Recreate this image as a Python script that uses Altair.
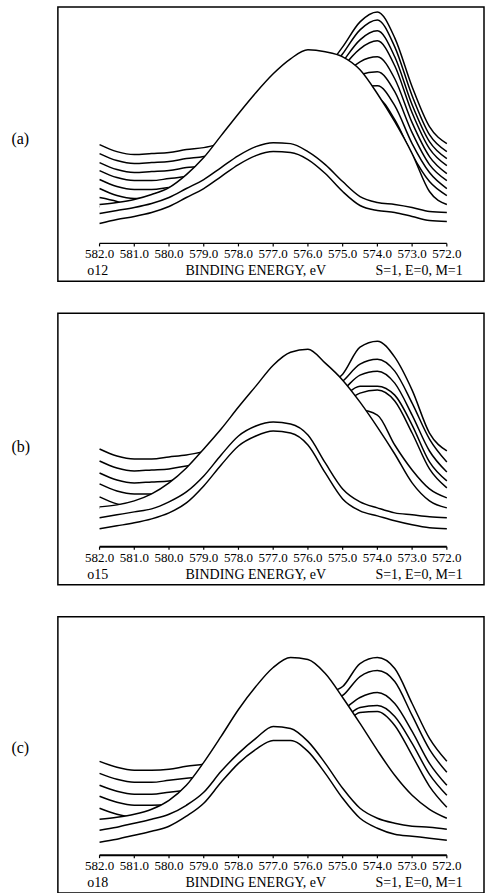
import altair as alt
import pandas as pd

# ---------------- data ----------------
ENERGY = [582.0, 581.5, 581.0, 580.5, 580.0, 579.5, 579.0, 578.5, 578.0, 577.5,
          577.0, 576.5, 576.0, 575.5, 575.0, 574.5, 574.0, 573.5, 573.0, 572.5, 572.0]
TICKS = [582.0, 581.0, 580.0, 579.0, 578.0, 577.0, 576.0, 575.0, 574.0, 573.0, 572.0]
TICK_LABELS = ["582.0", "581.0", "580.0", "579.0", "578.0", "577.0",
               "576.0", "575.0", "574.0", "573.0", "572.0"]

PANEL_LABELS = ["(a)", "(b)", "(c)"]
RUN_CODES = ["o12", "o15", "o18"]
AXIS_TITLE = "BINDING ENERGY, eV"
PARAMS_TEXT = "S=1, E=0, M=1"

# intensities (arbitrary units), curves listed from back (top) to front (bottom)
A_P0 = [137, 130, 127, 128, 129, 132, 134, 138, 143, 152, 165, 180, 196, 212, 235, 260, 270, 244, 195, 155, 138]
A_P1 = [128, 121, 118, 119, 120, 123, 125, 130, 135, 144, 157, 172, 188, 204, 228, 252, 262, 235, 186, 147, 130]
A_P2 = [119, 112, 109, 110, 111, 114, 116, 122, 127, 136, 149, 164, 180, 196, 220, 242, 251, 225, 177, 140, 123]
A_P3 = [111, 104, 101, 101, 103, 105, 108, 114, 119, 128, 141, 156, 172, 188, 214, 233, 241, 216, 169, 133, 116]
A_P4 = [102, 95, 92, 92, 94, 96, 99, 106, 111, 120, 133, 148, 164, 180, 204, 220, 225, 203, 159, 125, 108]
A_P5 = [93, 86, 83, 83, 85, 87, 90, 98, 103, 112, 125, 140, 156, 172, 195, 207, 210, 190, 149, 117, 101]
A_P6 = [84, 80, 74, 75, 76, 79, 81, 90, 95, 104, 117, 132, 148, 164, 185, 195, 196, 176, 138, 109, 93]
A_P7 = [75, 71, 68, 69, 70, 73, 75, 82, 87, 96, 109, 124, 140, 156, 175, 183, 183, 162, 127, 100, 86]
A_BROAD = [77, 79, 82, 87, 94, 107, 124, 146, 168, 189, 208, 223, 232, 230, 225, 212, 188, 160, 128, 90, 77]
A_F1 = [68, 71, 74, 78, 84, 93, 102, 114, 126, 135, 139, 138, 130, 117, 100, 85, 79, 77, 74, 70, 69]
A_F2 = [58, 62, 65, 69, 75, 84, 93, 105, 117, 126, 130, 129, 122, 108, 90, 76, 71, 69, 65, 61, 60]

B_P0 = [136, 129, 126, 126, 128, 130, 133, 134, 139, 148, 160, 174, 188, 200, 211, 238, 244, 228, 195, 152, 134]
B_P1 = [124, 117, 114, 115, 116, 119, 121, 125, 130, 139, 151, 165, 179, 192, 204, 221, 226, 214, 182, 146, 123]
B_P2 = [112, 105, 102, 103, 104, 107, 109, 116, 121, 130, 142, 156, 170, 184, 195, 210, 214, 202, 170, 134, 113]
B_P3 = [101, 94, 91, 91, 93, 95, 98, 107, 112, 121, 133, 147, 161, 176, 188, 199, 199, 190, 160, 123, 104]
B_P4 = [88, 81, 78, 79, 80, 83, 85, 98, 103, 112, 124, 138, 152, 168, 180, 192, 195, 184, 152, 116, 97]
B_P5 = [77, 72, 69, 70, 71, 74, 76, 89, 94, 103, 115, 129, 143, 160, 165, 175, 170, 140, 115, 96, 87]
B_BROAD = [78, 80, 84, 91, 102, 117, 136, 156, 178, 199, 220, 233, 236, 222, 205, 183, 158, 131, 102, 84, 77]
B_F1 = [67, 70, 73, 76, 83, 93, 109, 130, 149, 159, 163, 161, 150, 122, 96, 83, 77, 72, 70, 68, 67]
B_F2 = [56, 59, 62, 66, 72, 82, 99, 120, 139, 149, 154, 152, 140, 112, 86, 74, 69, 64, 60, 57, 56]

C_P0 = [132, 126, 123, 123, 124, 127, 129, 132, 138, 148, 162, 178, 190, 200, 207, 230, 236, 225, 190, 155, 132]
C_P1 = [120, 114, 111, 111, 113, 115, 117, 122, 128, 138, 152, 168, 180, 192, 198, 217, 223, 212, 178, 144, 121]
C_P2 = [108, 102, 99, 99, 101, 103, 105, 112, 118, 128, 142, 158, 170, 180, 184, 196, 201, 190, 162, 130, 108]
C_P3 = [97, 91, 88, 88, 89, 92, 94, 102, 108, 118, 132, 148, 160, 172, 175, 186, 188, 177, 150, 119, 98]
C_P4 = [85, 79, 76, 76, 78, 80, 82, 92, 98, 108, 122, 138, 150, 164, 168, 181, 182, 168, 138, 107, 86]
C_BROAD = [74, 76, 79, 84, 93, 108, 131, 157, 184, 207, 226, 236, 234, 220, 196, 170, 143, 118, 98, 84, 75]
C_F1 = [63, 66, 70, 74, 79, 88, 101, 122, 140, 155, 167, 165, 152, 130, 105, 85, 75, 70, 67, 66, 64]
C_F2 = [51, 54, 58, 62, 67, 77, 90, 111, 130, 144, 153, 153, 142, 120, 95, 75, 65, 59, 57, 55, 53]

CURVES = [
    [A_P0, A_P1, A_P2, A_P3, A_P4, A_P5, A_P6, A_P7, A_BROAD, A_F1, A_F2],
    [B_P0, B_P1, B_P2, B_P3, B_P4, B_P5, B_BROAD, B_F1, B_F2],
    [C_P0, C_P1, C_P2, C_P3, C_P4, C_BROAD, C_F1, C_F2],
]

# ---------------- layout / style ----------------
SERIF = "Liberation Serif"
X_DOMAIN = [570.93, 583.2]
PANEL_W = 427
PANEL_H = [275, 272, 277]
LABEL_Y = [132, 134, 131]
AXIS_W = [1.3, 2.0, 2.0]
AXIS_LEVEL = 38
TICK_END = 35
TICKLABEL_LEVEL = 27
TITLE_LEVEL = 10
AREA_BASE = 44
ROW_POS = [582.05, 577.5, 572.8]


def panel(i):
    H = PANEL_H[i]
    xs = alt.Scale(domain=X_DOMAIN, reverse=True, nice=False, zero=False)
    ys = alt.Scale(domain=[0, H], nice=False, zero=False)
    yaxis = alt.Axis(title=PANEL_LABELS[i], domain=False, ticks=False, labels=False,
                     grid=False, titleAngle=0, titleX=-47, titleY=LABEL_Y[i],
                     titleAlign="left", titleBaseline="middle", titleFont=SERIF,
                     titleFontSize=16, titleFontWeight="normal", titleColor="black")

    def X(f):
        return alt.X(f, type="quantitative", scale=xs, axis=None)

    def Y(f):
        return alt.Y(f, type="quantitative", scale=ys, axis=yaxis)

    layers = []
    for curve in CURVES[i]:
        df = pd.DataFrame({"e": ENERGY, "v": curve, "b": [AREA_BASE] * len(ENERGY)})
        base = alt.Chart(df)
        layers.append(base.mark_area(fill="white", opacity=1, interpolate="monotone")
                      .encode(x=X("e"), y=Y("v"), y2=alt.Y2("b")))
        layers.append(base.mark_line(color="black", strokeWidth=1.5, interpolate="monotone")
                      .encode(x=X("e"), y=Y("v")))

    axis_df = pd.DataFrame({"e": [TICKS[0]], "e2": [TICKS[-1]], "v": [AXIS_LEVEL]})
    layers.append(alt.Chart(axis_df).mark_rule(color="black", strokeWidth=AXIS_W[i])
                  .encode(x=X("e"), x2=alt.X2("e2"), y=Y("v")))

    tick_df = pd.DataFrame({"e": TICKS, "v": [AXIS_LEVEL] * len(TICKS),
                            "v2": [TICK_END] * len(TICKS), "lab": TICK_LABELS,
                            "lv": [TICKLABEL_LEVEL] * len(TICKS)})
    layers.append(alt.Chart(tick_df).mark_rule(color="black", strokeWidth=1.2)
                  .encode(x=X("e"), y=Y("v"), y2=alt.Y2("v2")))
    layers.append(alt.Chart(tick_df).mark_text(font=SERIF, fontSize=13, color="black",
                                               baseline="middle", align="center")
                  .encode(x=X("e"), y=Y("lv"), text="lab:N"))

    row_df = pd.DataFrame({"e": ROW_POS, "v": [TITLE_LEVEL] * 3,
                           "t": [RUN_CODES[i], AXIS_TITLE, PARAMS_TEXT]})
    layers.append(alt.Chart(row_df).mark_text(font=SERIF, fontSize=14, color="black",
                                              baseline="middle", align="center")
                  .encode(x=X("e"), y=Y("v"), text="t:N"))

    return alt.layer(*layers).properties(width=PANEL_W, height=H)


chart = (
    alt.vconcat(*[panel(i) for i in range(3)], spacing=30)
    .properties(padding={"left": 10, "top": 5, "right": 0, "bottom": 0},
                background="white")
    .configure_view(stroke="black", strokeWidth=1.5)
)

chart.save("out.html", embed_options={"renderer": "svg", "actions": False})
